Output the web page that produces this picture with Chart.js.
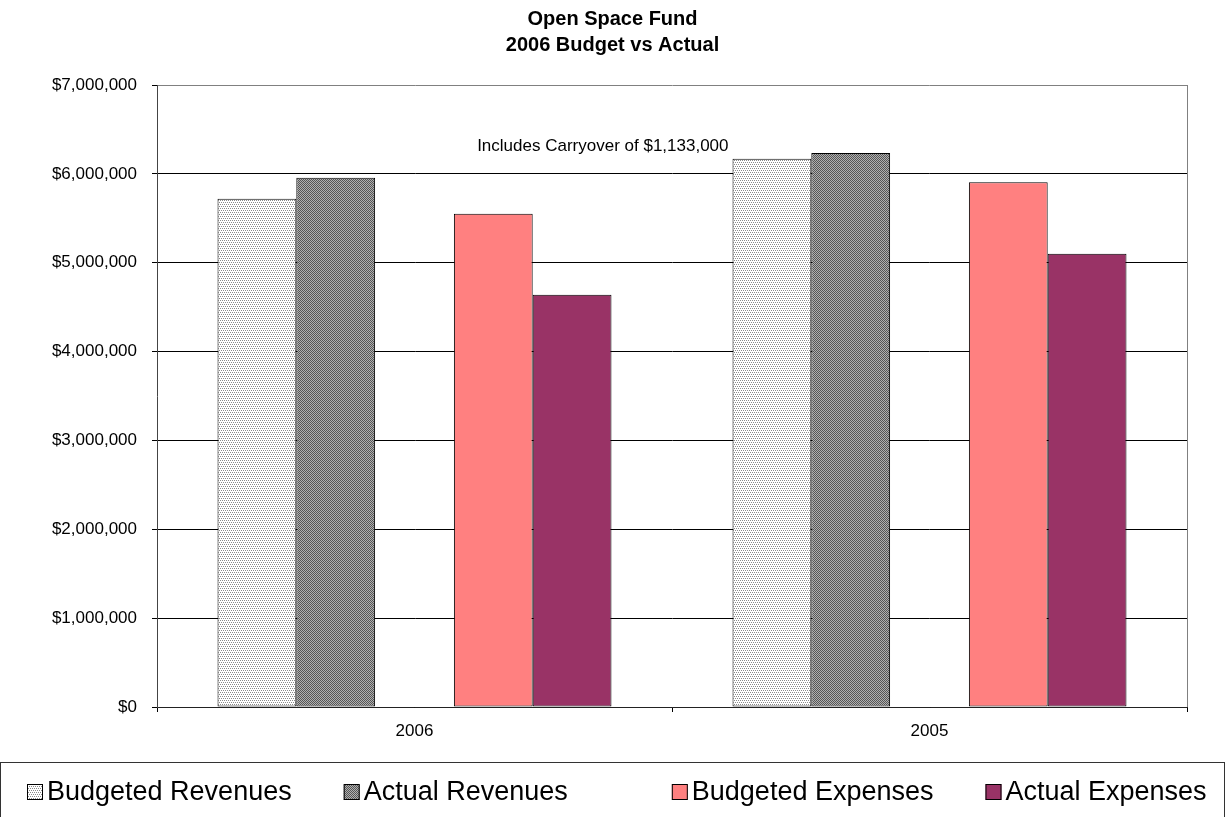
<!DOCTYPE html>
<html>
<head>
<meta charset="utf-8">
<title>Open Space Fund</title>
<script src="https://cdn.jsdelivr.net/npm/chart.js@4/dist/chart.umd.min.js"></script>
<style>
  html, body { margin: 0; padding: 0; background: #fff; }
  canvas { display: block; }
</style>
</head>
<body>
<canvas id="fundChart" width="1225" height="817"></canvas>
<script>
const categories = ['2006', '2005'];
const budgetedRevenues = [5720000, 6170000];
const actualRevenues = [5955000, 6235000];
const budgetedExpenses = [5550000, 5905000];
const actualExpenses = [4640000, 5100000];
const seriesNames = ['Budgeted Revenues', 'Actual Revenues', 'Budgeted Expenses', 'Actual Expenses'];
const titleLines = ['Open Space Fund', '2006 Budget vs Actual'];
const yMax = 7000000;
const yStep = 1000000;
const noteText = 'Includes Carryover of $1,133,000';
const noteValue = 6310000;

const FONT = '"Liberation Sans", Arial, sans-serif';

// little tiles to imitate the Excel fill patterns
function makePattern(cells, size, dark, light) {
    const c = document.createElement('canvas');
    c.width = size; c.height = size;
    const g = c.getContext('2d');
    g.fillStyle = light;
    g.fillRect(0, 0, size, size);
    g.fillStyle = dark;
    cells.forEach(p => g.fillRect(p[0], p[1], 1, 1));
    return g.createPattern(c, 'repeat');
}

const ctx = document.getElementById('fundChart').getContext('2d');
const lightDots = makePattern([[0, 0], [2, 0], [1, 2], [3, 2]], 4, '#8a8a8a', '#ffffff');
const darkDots = makePattern([[0, 0], [1, 1]], 2, '#555555', '#b0b0b0');

const fills = [lightDots, darkDots, '#FF8080', '#993366'];

const money = v => '$' + Number(v).toLocaleString('en-US');

const extras = {
    id: 'extras',
    afterDatasetsDraw(chart) {
        const c = chart.ctx;
        const area = chart.chartArea;
        const y = chart.scales.y;
        // right plot border
        c.save();
        c.strokeStyle = '#808080';
        c.lineWidth = 1;
        c.beginPath();
        c.moveTo(Math.round(area.right) + 0.5, area.top);
        c.lineTo(Math.round(area.right) + 0.5, area.bottom);
        c.stroke();

        // carryover note, right aligned just left of the 2005 group
        const bar = chart.getDatasetMeta(0).data[1];
        c.fillStyle = '#000';
        c.font = '17px ' + FONT;
        c.textAlign = 'right';
        c.textBaseline = 'middle';
        c.fillText(noteText, bar.x - bar.width / 2 - 4, y.getPixelForValue(noteValue));
        c.restore();
    },
    afterDraw(chart) {
        const c = chart.ctx;
        c.save();
        // title, centred on the whole picture
        c.fillStyle = '#000';
        c.font = 'bold 20px ' + FONT;
        c.textAlign = 'center';
        c.textBaseline = 'middle';
        c.fillText(titleLines[0], chart.width / 2, 19);
        c.fillText(titleLines[1], chart.width / 2, 45);

        // legend frame along the bottom
        c.strokeStyle = '#333';
        c.lineWidth = 1;
        c.strokeRect(0.5, 762.5, chart.width - 1, 80);

        c.font = '27px ' + FONT;
        c.textAlign = 'left';
        let x = 27;
        const cy = 792;
        seriesNames.forEach((name, i) => {
            c.fillStyle = fills[i];
            c.fillRect(x, cy - 8, 16, 16);
            c.strokeStyle = '#000';
            c.strokeRect(x + 0.5, cy - 7.5, 15, 15);
            c.fillStyle = '#000';
            c.fillText(name, x + 20, cy + 1);
            x += 20 + c.measureText(name).width + 52;
            if (i === 1) x += 52; // empty legend slot of the spacer series
        });
        c.restore();
    }
};

const barStyle = (label, data, fill) => ({
    label: label,
    data: data,
    backgroundColor: fill,
    borderColor: '#000',
    borderWidth: 1,
    borderSkipped: false
});

new Chart(ctx, {
    type: 'bar',
    data: {
        labels: categories,
        datasets: [
            barStyle(seriesNames[0], budgetedRevenues, fills[0]),
            barStyle(seriesNames[1], actualRevenues, fills[1]),
            { label: '', data: [null, null] }, // spacer series, like the blank one in the sheet
            barStyle(seriesNames[2], budgetedExpenses, fills[2]),
            barStyle(seriesNames[3], actualExpenses, fills[3])
        ]
    },
    options: {
        responsive: false,
        animation: false,
        categoryPercentage: 0.765,
        barPercentage: 1,
        layout: { padding: { left: 0, right: 38, top: 85, bottom: 56 } },
        scales: {
            x: {
                grid: {
                    drawOnChartArea: false,
                    drawTicks: true,
                    tickLength: 5,
                    color: '#000'
                },
                border: { color: '#222', width: 1 },
                ticks: { color: '#000', padding: 9, font: { family: FONT, size: 17 } },
                afterFit: s => { s.height = 54; }
            },
            y: {
                min: 0,
                max: yMax,
                grid: {
                    color: c => c.tick && c.tick.value === yMax ? '#808080' : '#000',
                    tickColor: '#000',
                    tickLength: 5
                },
                border: { color: '#444', width: 1 },
                ticks: {
                    stepSize: yStep,
                    color: '#000',
                    padding: 15,
                    font: { family: FONT, size: 17 },
                    callback: v => money(v)
                },
                afterFit: s => { s.width = 157; }
            }
        },
        plugins: {
            legend: { display: false },
            tooltip: { enabled: false },
            title: { display: false }
        }
    },
    plugins: [extras]
});
</script>
</body>
</html>
